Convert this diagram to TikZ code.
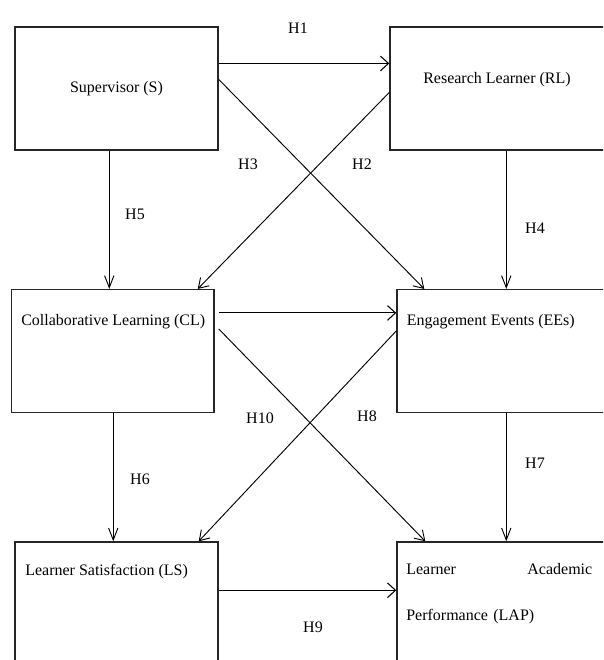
\documentclass[tikz,border=0pt]{standalone}
\usepackage{fontspec}
\setmainfont{Liberation Serif}
\usepackage{tikz}
\usetikzlibrary{positioning, arrows.meta}

\begin{document}
\begin{tikzpicture}[x=0.75pt,y=-0.75pt,
    every node/.style={font=\fontsize{12}{14.4}\selectfont},
    box/.style={draw=black!85, line width=1.1pt, inner sep=0pt, minimum height=92pt},
    txt/.style={anchor=west, inner sep=0pt},
    harr/.style={line width=0.8pt, -{Straight Barb[length=6pt,width=11pt]}},
    varr/.style={line width=0.7pt, -{Straight Barb[length=9pt,width=7pt]}},
    darr/.style={line width=0.7pt, -{Straight Barb[length=7pt,width=9pt]}}]
       \useasboundingbox (0,0) rectangle (603,660);
       \clip (0,0) rectangle (603,660);

       \node[box, minimum width=152.25pt] (s) at (116.5,88.5) {Supervisor (S)};
       \node[box, minimum width=232.5pt] (rl) at (545,88.5) {};
       \node[box, minimum width=151.9pt] (cl) at (112.75,351) {};
       \node[box, minimum width=227.25pt] (ee) at (548.5,351) {};
       \node[box, minimum width=152.25pt, minimum height=118.5pt] (ls) at (116.5,621) {};
       \node[box, minimum width=227.25pt, minimum height=118.5pt] (lap) at (548.5,621) {};

       \node[txt] (rltxt) at (423,80) {Research Learner (RL)};
       \node[txt] (cltxt) at (21,322) {Collaborative Learning (CL)};
       \node[txt] (eetxt) at (406.5,322) {Engagement Events (EEs)};
       \node[txt] (lstxt) at (25,572) {Learner Satisfaction (LS)};
       \node[anchor=north west, inner sep=0pt, text width=139.5pt, align=left,
             font=\fontsize{12}{34.5}\selectfont] (laptxt) at (406,563)
             {Learner\hfill Academic\\Performance (LAP)};

       \draw[harr] ([shift={(0,37)}]s.north east) -- ([shift={(0,37)}]rl.north west);
       \draw[darr] ([shift={(0,53)}]s.north east) -- ([shift={(28,0)}]ee.north west);
       \draw[darr] ([shift={(0,66)}]rl.north west) -- ([shift={(-17,0)}]cl.north east);
       \draw[varr] ([shift={(95,0)}]s.south west) -- ([shift={(95,0)}]s.south west |- cl.north);
       \draw[varr] ([shift={(117,0)}]rl.south west) -- ([shift={(117,0)}]rl.south west |- ee.north);
       \draw[harr] ([shift={(4,24)}]cl.north east) -- ([shift={(0,24)}]ee.north west);
       \draw[darr] ([shift={(4,40)}]cl.north east) -- ([shift={(29,0)}]lap.north west);
       \draw[darr] ([shift={(0,42)}]ee.north west) -- ([shift={(-20,0)}]ls.north east);
       \draw[varr] ([shift={(102.5,0)}]cl.south west) -- ([shift={(102.5,0)}]cl.south west |- ls.north);
       \draw[varr] ([shift={(110,0)}]ee.south west) -- ([shift={(110,0)}]ee.south west |- lap.north);
       \draw[harr] ([shift={(0,49)}]ls.north east) -- ([shift={(0,49)}]lap.north west);

       \node (h1) at (298,28) {H1};
       \node (h2) at (362,164) {H2};
       \node (h3) at (248,164) {H3};
       \node (h4) at (535,228) {H4};
       \node (h5) at (135,214) {H5};
       \node (h6) at (140,479) {H6};
       \node (h7) at (535,463) {H7};
       \node (h8) at (367,416) {H8};
       \node (h9) at (313,627) {H9};
       \node (h10) at (260,418) {H10};
\end{tikzpicture}
\end{document}
